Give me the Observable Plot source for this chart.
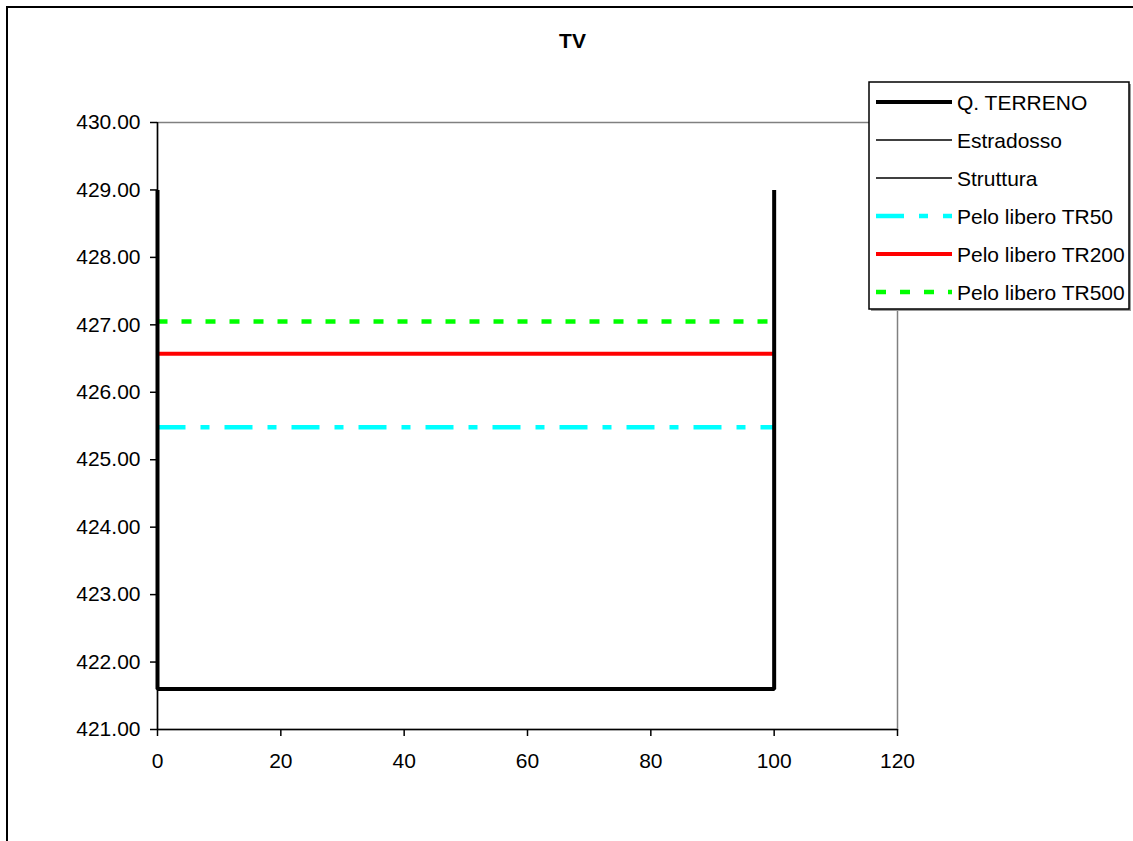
<!DOCTYPE html>
<html>
<head>
<meta charset="utf-8">
<script src="https://cdn.jsdelivr.net/npm/d3@7"></script>
<script src="https://cdn.jsdelivr.net/npm/@observablehq/plot@0.6"></script>
<style>
  html, body { margin: 0; padding: 0; background: #fff; }
  body { width: 1133px; height: 841px; position: relative; overflow: hidden; font-family: "Liberation Sans", Arial, sans-serif; }
  #frame { position: absolute; left: 6px; top: 6px; width: 1140px; height: 850px; border: 2px solid #000; box-sizing: border-box; }
  #chart { position: absolute; left: 0; top: 0; }
  #title { position: absolute; left: 0; width: 1145px; top: 29px; line-height: 24px; text-align: center; font-weight: bold; font-size: 21px; color: #000; }
  #legend { position: absolute; left: 0; top: 0; }
</style>
</head>
<body>
<div id="frame"></div>
<div id="chart"></div>
<div id="title">TV</div>
<svg id="legend" width="1133" height="841"></svg>
<script>
// ---- data ----
const title = "TV";
const xTicks = [0, 20, 40, 60, 80, 100, 120];
const yTicks = [421, 422, 423, 424, 425, 426, 427, 428, 429, 430];
const terrenoX = [0, 0, 100, 100];
const terrenoY = [429, 421.6, 421.6, 429];
const estradossoX = [];
const estradossoY = [];
const strutturaX = [];
const strutturaY = [];
const tr50X = [0, 100];
const tr50Y = [425.48, 425.48];
const tr200X = [0, 100];
const tr200Y = [426.57, 426.57];
const tr500X = [0, 100];
const tr500Y = [427.05, 427.05];
const seriesNames = ["Q. TERRENO", "Estradosso", "Struttura", "Pelo libero TR50", "Pelo libero TR200", "Pelo libero TR500"];
const seriesColors = ["#000000", "#000000", "#000000", "#00FFFF", "#FF0000", "#00FF00"];
const seriesWidths = [4, 1.5, 1.5, 4.5, 4, 4.5];
const seriesDash = [null, null, null, "28,15,9,15", null, "10,14"];

const toPts = (xs, ys) => xs.map((x, i) => ({x, y: ys[i]}));
const series = [
  toPts(terrenoX, terrenoY),
  toPts(estradossoX, estradossoY),
  toPts(strutturaX, strutturaY),
  toPts(tr50X, tr50Y),
  toPts(tr200X, tr200Y),
  toPts(tr500X, tr500Y)
];

const lineMarks = series.map((data, i) => Plot.line(data, {
  x: "x", y: "y",
  stroke: seriesColors[i],
  strokeWidth: seriesWidths[i],
  strokeDasharray: seriesDash[i] || undefined,
  strokeLinecap: "butt",
  strokeLinejoin: "miter"
}));
const ordered = [lineMarks[3], lineMarks[4], lineMarks[5], lineMarks[1], lineMarks[2], lineMarks[0]];

const plot = Plot.plot({
  width: 1133,
  height: 841,
  marginLeft: 157,
  marginRight: 236,
  marginTop: 122,
  marginBottom: 112,
  style: { fontFamily: "'Liberation Sans', Arial, sans-serif", fontSize: "21px", color: "#000", background: "transparent", overflow: "visible" },
  x: { domain: [0, 120] },
  y: { domain: [421, 430] },
  marks: [
    Plot.frame({ stroke: "#808080", strokeWidth: 1.5 }),
    ...ordered,
    Plot.ruleX([0], { stroke: "#000", strokeWidth: 1.5 }),
    Plot.ruleY([421], { stroke: "#000", strokeWidth: 1.5 }),
    Plot.axisX({ ticks: xTicks, tickSize: 7, tickPadding: 17, tickFormat: d => String(d), label: null, fontSize: 21, stroke: "#000", strokeWidth: 1.5 }),
    Plot.axisY({ ticks: yTicks, tickSize: 7, tickPadding: 10, tickFormat: d => d.toFixed(2), label: null, fontSize: 21, stroke: "#000", strokeWidth: 1.5 })
  ]
});
document.getElementById("chart").appendChild(plot);
document.getElementById("title").textContent = title;

// ---- legend ----
const lg = d3.select("#legend");
lg.append("rect").attr("x", 871).attr("y", 84).attr("width", 260).attr("height", 227).attr("fill", "#999");
lg.append("rect").attr("x", 869).attr("y", 82).attr("width", 260).attr("height", 227)
  .attr("fill", "#fff").attr("stroke", "#000").attr("stroke-width", 1.5);
seriesNames.forEach((name, i) => {
  const cy = 102 + i * 38;
  lg.append("line").attr("x1", 876).attr("x2", 952).attr("y1", cy).attr("y2", cy)
    .attr("stroke", seriesColors[i]).attr("stroke-width", seriesWidths[i])
    .attr("stroke-dasharray", seriesDash[i]);
  lg.append("text").attr("x", 957).attr("y", cy).attr("dy", "0.36em")
    .attr("font-family", "'Liberation Sans', Arial, sans-serif").attr("font-size", 21)
    .attr("fill", "#000").text(name);
});
</script>
</body>
</html>
